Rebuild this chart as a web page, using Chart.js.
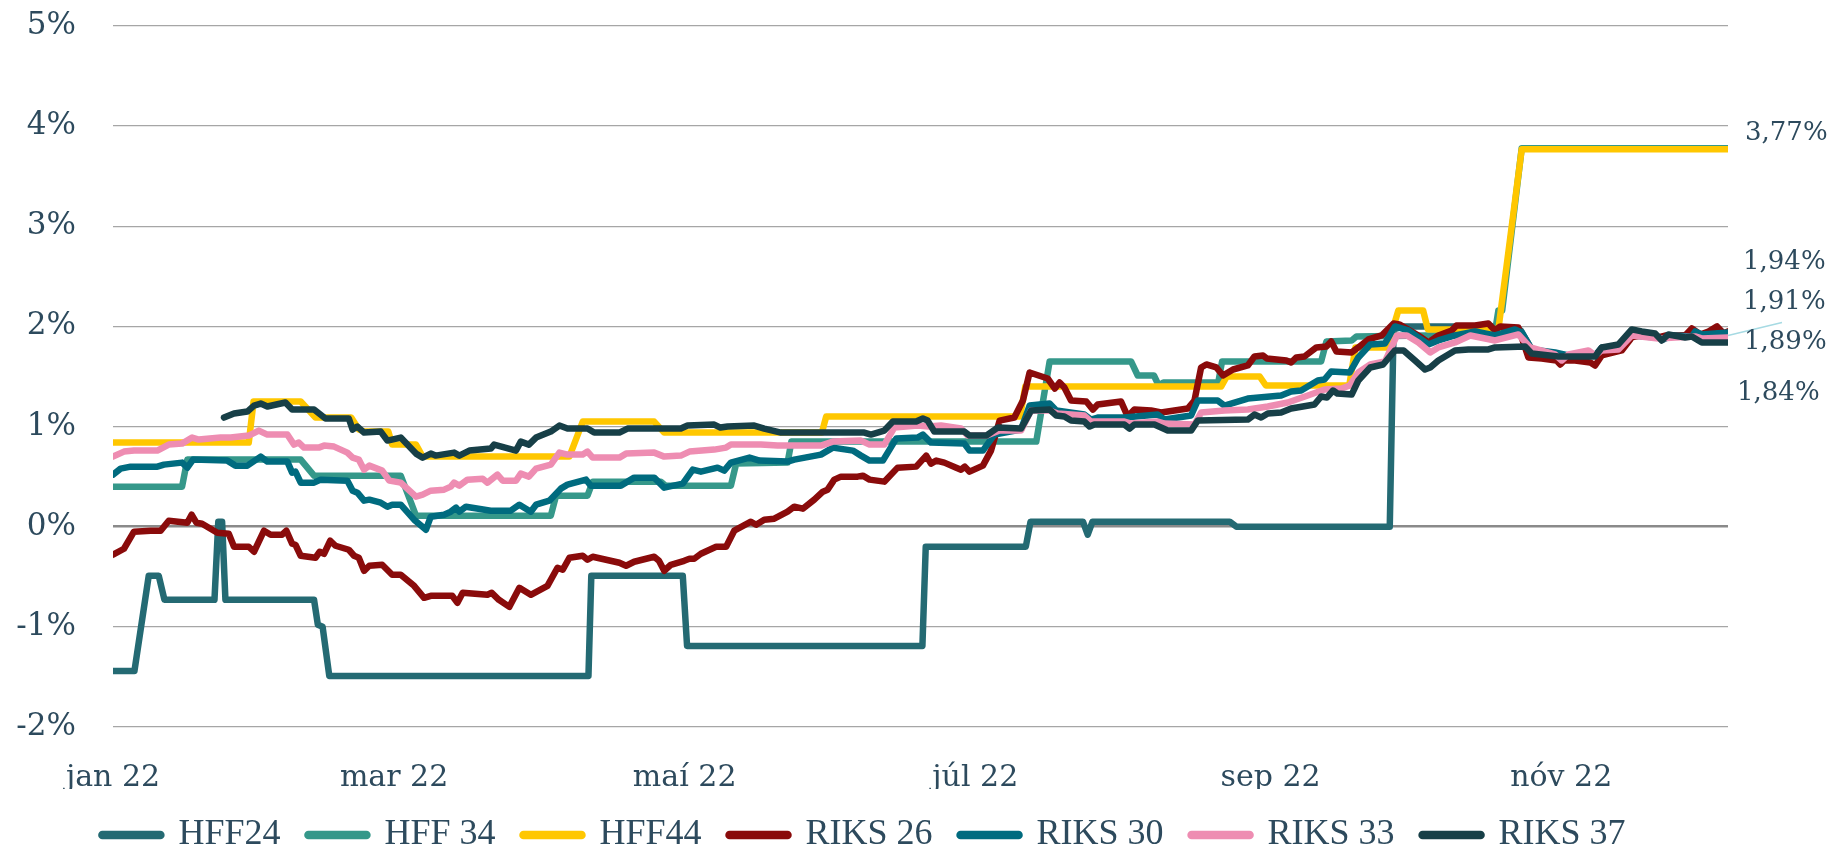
<!DOCTYPE html>
<html>
<head>
<meta charset="utf-8">
<script src="https://cdn.jsdelivr.net/npm/chart.js@4.4.1/dist/chart.umd.min.js"></script>
<style>
    html, body { margin: 0; padding: 0; background: #fff; }
    #wrap { width: 1833px; height: 855px; position: relative; }
</style>
</head>
<body>
<div id="wrap"><canvas id="yieldChart"></canvas></div>
<script>
// ### DATA ###
// x = day of 2022 (0 = 1 jan), y = yield in %
const monthDays = [0, 59, 120, 181, 243, 304];
const monthLabels = ['jan 22', 'mar 22', 'maí 22', 'júl 22', 'sep 22', 'nóv 22'];
const yTicks = [-2, -1, 0, 1, 2, 3, 4, 5];

const seriesNames = ['HFF24', 'HFF 34', 'HFF44', 'RIKS 26', 'RIKS 30', 'RIKS 33', 'RIKS 37'];
const seriesColors = ['#246a73', '#35988a', '#ffc700', '#8a0b0b', '#006b7f', '#ee8db2', '#173f47'];
const endLabels = ['3,77%', '1,94%', '1,91%', '1,89%', '1,84%'];

const hff24 = [[0,-1.44],[4.5,-1.44],[7.5,-0.49],[9.6,-0.49],[10.8,-0.73],[21.3,-0.73],[22.1,0.05],[22.9,0.05],[23.6,-0.73],
    [42.2,-0.73],[43,-0.98],[44,-1.0],[45.4,-1.49],[99.8,-1.49],[100.4,-0.49],[119.6,-0.49],[120.5,-1.19],[169.9,-1.19],
    [170.6,-0.2],[191.6,-0.2],[192.6,0.05],[203.6,0.05],[204.6,-0.08],[205.6,0.05],[234.4,0.05],[235.8,0.0],[268,0.0],
    [268.8,1.97],[271,2.0],[290,2.0],[291.5,1.98],[295.5,1.96],[297.8,1.77],[305,1.71],[311,1.71],[312.5,1.78],[316,1.79],
    [318.8,1.91],[324,1.89],[332,1.92],[339,1.91]];

const hff34 = [[0,0.40],[14.5,0.40],[15.6,0.67],[39.4,0.67],[42.2,0.51],[60.4,0.51],[63.6,0.11],[91.9,0.11],[93,0.31],
    [99.6,0.31],[100.7,0.45],[115,0.45],[116,0.41],[129.7,0.41],[130.8,0.63],[141.6,0.64],[142.4,0.85],[193.8,0.85],
    [196.6,1.65],[213.7,1.65],[215.1,1.51],[218.5,1.51],[219.5,1.41],[220.5,1.44],[232,1.44],[232.8,1.65],[253.6,1.65],
    [254.7,1.85],[260,1.86],[261,1.9],[290,1.92],[290.8,2.16],[291.6,2.16],[295.7,3.78],[339,3.78]];

const hff44 = [[0,0.84],[28.5,0.84],[29.5,1.25],[39.4,1.25],[42.5,1.09],[50,1.09],[51.6,0.97],[52.7,0.95],[57.8,0.95],
    [58.6,0.82],[63.6,0.82],[65,0.7],[95.8,0.7],[98.6,1.05],[113.6,1.05],[115.7,0.94],[148.8,0.94],[149.7,1.1],[190.4,1.1],
    [191.5,1.4],[232.6,1.4],[233.8,1.5],[240.7,1.5],[242,1.41],[259.5,1.41],[260.8,1.79],[267.5,1.79],[269.8,2.16],
    [275,2.16],[276,1.97],[290.8,1.97],[295.7,3.77],[339,3.77]];

const riks26 = [[0,-0.28],[2.3,-0.22],[4.4,-0.05],[7.9,-0.04],[10,-0.04],[11.7,0.06],[15.6,0.04],[16.5,0.12],[17.5,0.04],
    [18.7,0.03],[21.9,-0.06],[24.3,-0.07],[25.4,-0.2],[28.5,-0.2],[29.6,-0.25],[31.7,-0.04],[33.1,-0.08],[35.5,-0.08],
    [36.4,-0.04],[37.6,-0.17],[38.3,-0.18],[39.4,-0.29],[42.5,-0.31],[43.4,-0.25],[44.3,-0.27],[45.6,-0.14],[46.7,-0.19],
    [49.5,-0.23],[50.6,-0.29],[51.6,-0.31],[52.7,-0.44],[53.8,-0.39],[56.5,-0.38],[58.6,-0.48],[60.4,-0.48],[63.2,-0.59],
    [65.3,-0.71],[66.7,-0.69],[71.2,-0.69],[72.3,-0.76],[73.4,-0.66],[78.6,-0.68],[79.5,-0.66],[81,-0.73],[83.2,-0.8],
    [85.3,-0.61],[87.7,-0.68],[91.2,-0.59],[93.3,-0.41],[94.4,-0.43],[95.8,-0.31],[98.6,-0.29],[99.6,-0.33],[100.7,-0.3],
    [106.3,-0.36],[107.7,-0.39],[109.4,-0.35],[113.6,-0.3],[114.6,-0.34],[115.7,-0.44],[117.1,-0.38],[119.9,-0.34],
    [121,-0.32],[122,-0.32],[123.4,-0.27],[126.6,-0.2],[128.7,-0.2],[130.4,-0.04],[133.9,0.05],[135,0.02],[136.7,0.07],
    [138.8,0.08],[141.6,0.15],[143,0.2],[144.8,0.18],[147.2,0.27],[149,0.35],[150,0.37],[151.4,0.47],[152.8,0.5],
    [156.3,0.5],[157.4,0.51],[158.8,0.47],[161.9,0.45],[164.7,0.59],[168.6,0.6],[170.7,0.71],[171.7,0.63],[172.8,0.66],
    [174.5,0.64],[177,0.59],[178,0.57],[178.8,0.6],[179.8,0.55],[182.6,0.61],[184.3,0.76],[186.1,1.06],[189.2,1.09],
    [191,1.26],[192.4,1.54],[196.2,1.48],[197.7,1.38],[198.7,1.44],[199.7,1.39],[201.1,1.26],[204.3,1.25],[205.7,1.17],
    [206.7,1.22],[211.6,1.25],[213,1.1],[214.4,1.17],[217.9,1.16],[220,1.14],[225.6,1.18],[227,1.26],[228.4,1.59],
    [229.5,1.62],[231.6,1.59],[233,1.51],[235.1,1.57],[238.2,1.61],[239.6,1.7],[241.4,1.71],[242.2,1.68],[246.3,1.66],
    [247.3,1.64],[248.4,1.69],[250.1,1.7],[252.6,1.79],[254.7,1.8],[255.7,1.85],[256.8,1.75],[260,1.74],[261.4,1.79],
    [263.5,1.87],[266.3,1.91],[268.8,2.03],[270,2.02],[274,1.91],[276.1,1.84],[278.2,1.91],[281,1.96],[282,2.01],
    [285.9,2.01],[288.7,2.03],[290.1,1.96],[291.2,2.0],[295,1.99],[297.1,1.69],[299.9,1.68],[303,1.66],[303.8,1.62],
    [304.6,1.66],[306.9,1.66],[310.1,1.64],[311.1,1.61],[312.5,1.71],[316.7,1.76],[318.8,1.89],[321.6,1.92],[324.4,1.89],
    [326,1.91],[330,1.91],[331.4,1.98],[333.2,1.92],[334.9,1.95],[336.7,2.0],[338.1,1.93],[339,1.95]];

const riks30 = [[0,0.52],[1.6,0.58],[3.7,0.6],[9.3,0.6],[10.7,0.62],[14.5,0.64],[15.6,0.59],[16.8,0.67],[24,0.66],
    [25.7,0.61],[28.2,0.61],[31,0.7],[32.4,0.65],[36.6,0.65],[37.6,0.54],[38.3,0.55],[39.4,0.44],[42.2,0.44],[43.6,0.47],
    [49.2,0.46],[50.3,0.36],[51.3,0.34],[52.7,0.26],[53.8,0.27],[56.2,0.24],[57.6,0.2],[58.6,0.22],[60.4,0.22],
    [63.2,0.07],[65.7,-0.03],[66.7,0.1],[69.5,0.12],[70.9,0.15],[72,0.19],[72.7,0.15],[74.1,0.2],[79.3,0.16],[83.5,0.16],
    [85.3,0.22],[87.7,0.15],[88.8,0.22],[91.6,0.26],[94,0.38],[95.4,0.42],[99.3,0.47],[100.3,0.41],[106.6,0.41],
    [109.4,0.49],[113.6,0.49],[115.7,0.39],[119.6,0.43],[121.7,0.57],[123.4,0.55],[126.9,0.59],[128.3,0.56],[129.7,0.64],
    [133.6,0.69],[135.7,0.66],[141.6,0.65],[143,0.67],[148.6,0.72],[151.1,0.79],[155.3,0.76],[157,0.71],[158.8,0.66],
    [161.6,0.66],[164.4,0.88],[168.9,0.89],[170,0.92],[171.7,0.84],[178.7,0.83],[179.8,0.76],[182.6,0.76],[185,0.92],
    [190.6,0.97],[192.4,1.21],[196.6,1.23],[198,1.16],[203.9,1.12],[205.3,1.07],[206.7,1.09],[212.3,1.09],[219.3,1.12],
    [220.7,1.07],[226.3,1.11],[227.7,1.26],[231.9,1.26],[233.3,1.21],[238.2,1.28],[245.2,1.31],[247.3,1.35],[249.4,1.36],
    [252.9,1.46],[254.3,1.47],[255.7,1.55],[259.6,1.54],[261.4,1.69],[263.9,1.82],[267,1.83],[269.1,2.0],[271.9,1.96],
    [276.1,1.82],[278.2,1.86],[281.7,1.91],[285.9,1.95],[290.1,1.91],[294.3,1.97],[295.7,1.94],[297.8,1.77],[302.7,1.74],
    [305.5,1.71],[311.1,1.71],[312.5,1.79],[316,1.79],[318.8,1.92],[323.7,1.9],[325.5,1.87],[327.2,1.91],[331.4,1.9],
    [332.1,1.95],[333.5,1.92],[339,1.94]];

const riks33 = [[0,0.7],[2.3,0.75],[4.4,0.76],[9.3,0.76],[11.7,0.82],[14.5,0.83],[16.6,0.89],[18,0.87],[22.6,0.89],
    [24.7,0.89],[28.5,0.91],[30.6,0.96],[32.4,0.92],[36.6,0.92],[38,0.82],[39,0.84],[40.1,0.79],[43.2,0.79],[44.3,0.81],
    [46.4,0.8],[49.2,0.74],[50.3,0.69],[51.6,0.67],[52.7,0.57],[53.8,0.61],[56.5,0.56],[58,0.46],[60.4,0.44],[63.6,0.3],
    [65,0.32],[66.7,0.36],[69.5,0.37],[70.9,0.4],[71.6,0.44],[72.7,0.41],[74.4,0.47],[77.6,0.48],[78.6,0.44],[80.7,0.52],
    [81.8,0.46],[84.6,0.46],[85.6,0.53],[87.3,0.5],[88.8,0.58],[91.9,0.62],[93.7,0.74],[95.4,0.72],[98.6,0.72],[99.6,0.75],
    [100.7,0.69],[106.3,0.69],[107.7,0.73],[113.6,0.74],[115.7,0.7],[119.2,0.71],[121,0.75],[126.2,0.77],[128.7,0.79],
    [129.7,0.82],[136,0.82],[139.5,0.81],[148.6,0.81],[151.1,0.85],[157,0.86],[158.8,0.82],[161.9,0.82],[164,0.99],
    [168.9,1.01],[171.2,1.0],[173.8,1.01],[178,0.98],[179.4,0.91],[183.3,0.91],[186.1,0.96],[190.6,0.96],[192.7,1.16],
    [196.6,1.16],[198.3,1.13],[203.9,1.11],[205.3,1.05],[212.3,1.05],[213.7,1.03],[219.3,1.05],[220.7,1.03],[227,1.02],
    [228.4,1.14],[233.3,1.16],[238.2,1.17],[242.4,1.2],[246.6,1.24],[250.8,1.31],[254.3,1.37],[257.9,1.38],[259.6,1.41],
    [261.4,1.54],[263.9,1.62],[267,1.65],[269.5,1.91],[271.6,1.91],[274,1.84],[276.5,1.74],[278.2,1.79],[281.7,1.84],
    [284.9,1.91],[290.1,1.86],[295,1.92],[297.5,1.79],[302.7,1.72],[304.1,1.66],[305.5,1.72],[309.7,1.76],[311.1,1.71],
    [312.5,1.76],[316,1.77],[318.8,1.91],[324.4,1.88],[327.9,1.89],[332.1,1.9],[333.5,1.88],[339,1.89]];

const riks37 = [[23.3,1.09],[25.4,1.13],[28.2,1.15],[29.6,1.21],[31,1.23],[32.4,1.2],[36.2,1.24],[37.6,1.17],[42.2,1.17],
    [44.6,1.08],[49.5,1.08],[50.3,0.97],[51.3,1.0],[52.7,0.94],[56.2,0.95],[57.6,0.86],[60.4,0.89],[63.6,0.73],[65,0.69],
    [66.7,0.73],[67.7,0.71],[71.6,0.74],[72.7,0.71],[74.8,0.76],[79.3,0.78],[80,0.82],[84.6,0.76],[85.6,0.85],[87.3,0.82],
    [88.8,0.89],[91.9,0.95],[93.7,1.01],[95.4,0.98],[99.6,0.98],[101,0.94],[106.3,0.94],[108,0.98],[119.2,0.98],
    [120.6,1.01],[126.2,1.02],[127.5,0.99],[129,1.0],[134.6,1.01],[136.7,0.98],[140.2,0.94],[157.7,0.94],[159.1,0.92],
    [161.9,0.96],[163.7,1.05],[168.6,1.05],[170,1.08],[171,1.06],[172.4,0.95],[178.7,0.95],[179.8,0.91],[183.3,0.91],
    [185.7,0.99],[190.6,0.98],[192.7,1.16],[196.6,1.17],[198,1.11],[199.7,1.1],[201.1,1.06],[203.9,1.05],[205,1.0],
    [206,1.02],[212.3,1.02],[213.4,0.98],[214.4,1.02],[218.6,1.02],[221.4,0.96],[226.3,0.96],[227.7,1.06],[238.2,1.07],
    [239.6,1.12],[241,1.09],[242.4,1.13],[245.2,1.14],[247.3,1.18],[252.2,1.22],[253.6,1.3],[254.8,1.29],[256.1,1.36],
    [257,1.33],[260,1.32],[261.4,1.46],[263.9,1.59],[266.6,1.62],[269.1,1.76],[270.9,1.76],[273.3,1.66],[275.4,1.57],
    [276.5,1.59],[278.2,1.66],[281.7,1.76],[284.5,1.77],[288.7,1.77],[290.1,1.79],[296.4,1.8],[297.8,1.73],[303.4,1.7],
    [311.1,1.7],[312.5,1.79],[316,1.82],[318.8,1.97],[320.9,1.95],[323.7,1.93],[325.1,1.86],[326.5,1.92],[330,1.89],
    [331.4,1.9],[333.5,1.84],[339,1.84]];

const seriesData = [hff24, hff34, hff44, riks26, riks30, riks33, riks37];

const textColor = '#2d4a5d';

// ### END LABELS (value labels at the right edge) ###
const endLabelPlugin = {
    id: 'endLabels',
    afterDatasetsDraw(chart) {
        const { ctx, chartArea, scales: { y } } = chart;
        // spread out by hand like the original, in y-axis units
        const labelAt = [3.93, 2.64, 2.24, 1.84, 1.33];
        const xOff = [17, 15, 15, 16, 9];
        ctx.save();
        // leader line for the 1,91% label
        ctx.strokeStyle = '#a6dae3';
        ctx.lineWidth = 1.5;
        ctx.beginPath();
        ctx.moveTo(chartArea.right, y.getPixelForValue(1.91));
        ctx.lineTo(chartArea.right + 54, y.getPixelForValue(2.04));
        ctx.stroke();

        ctx.fillStyle = textColor;
        ctx.font = '26px "DejaVu Serif"';
        ctx.textBaseline = 'middle';
        ctx.textAlign = 'left';
        endLabels.forEach((txt, i) => {
            ctx.fillText(txt, chartArea.right + xOff[i], y.getPixelForValue(labelAt[i]));
        });
        ctx.restore();
    }
};

// ### BUILD CHART ###
const datasets = seriesNames.map((name, i) => ({
    label: name,
    data: seriesData[i].map(([x, y]) => ({ x, y })),
    borderColor: seriesColors[i],
    backgroundColor: seriesColors[i],
    borderWidth: 6.5,
    borderJoinStyle: 'round',
    borderCapStyle: 'round',
    pointRadius: 0,
    pointHoverRadius: 0,
    pointStyle: 'line',
    tension: 0,
    fill: false,
    order: seriesNames.length - i   // later series drawn on top, like the original
}));

new Chart(document.getElementById('yieldChart'), {
    type: 'line',
    data: { datasets },
    options: {
        responsive: true,
        maintainAspectRatio: false,
        animation: false,
        events: [],
        layout: { padding: { top: 26, right: 105, bottom: -8, left: 0 } },
        plugins: {
            tooltip: { enabled: false },
            legend: {
                position: 'bottom',
                labels: {
                    usePointStyle: true,
                    pointStyleWidth: 58,
                    padding: 28,
                    color: textColor,
                    font: { family: 'Liberation Serif', size: 36 },
                    generateLabels: chart => Chart.defaults.plugins.legend.labels.generateLabels(chart)
                        .map(item => ({ ...item, lineWidth: 8.5, lineCap: 'round' })),
                    sort: (a, b) => a.datasetIndex - b.datasetIndex
                }
            }
        },
        scales: {
            x: {
                type: 'linear',
                min: 0,
                max: 339,
                afterBuildTicks: axis => { axis.ticks = monthDays.map(v => ({ value: v })); },
                afterFit: axis => {
                    axis.height = 62;
                    axis.paddingLeft = 0;
                    axis.paddingRight = 0;
                },
                grid: { display: false },
                border: { display: false },
                ticks: {
                    autoSkip: false,
                    maxRotation: 0,
                    padding: 25,
                    color: textColor,
                    font: { family: 'DejaVu Serif', size: 30 },
                    callback: (v, i) => monthLabels[i]
                }
            },
            y: {
                min: -2,
                max: 5,
                afterBuildTicks: axis => { axis.ticks = yTicks.map(v => ({ value: v })); },
                afterFit: axis => {
                    axis.width = 113;
                    axis.paddingTop = 0;
                    axis.paddingBottom = 0;
                },
                grid: {
                    drawTicks: false,
                    color: c => c.tick.value === 0 ? '#8a8a8a' : '#a6a6a6',
                    lineWidth: c => c.tick.value === 0 ? 2.5 : 1.3
                },
                border: { display: false },
                ticks: {
                    padding: 37,
                    color: textColor,
                    font: { family: 'DejaVu Serif', size: 31 },
                    callback: v => v + '%'
                }
            }
        }
    },
    plugins: [endLabelPlugin]
});
</script>
</body>
</html>
